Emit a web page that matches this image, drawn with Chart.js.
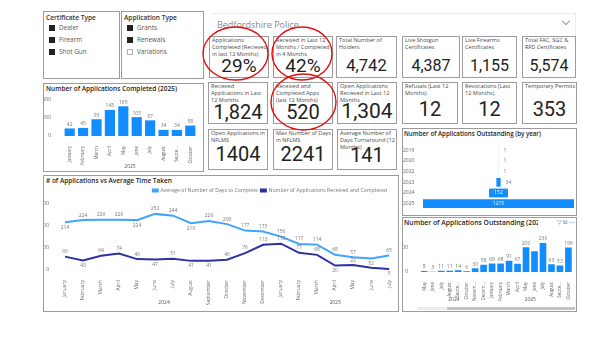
<!DOCTYPE html>
<html>
<head>
<meta charset="utf-8">
<script src="https://cdn.jsdelivr.net/npm/chart.js@4.4.0/dist/chart.umd.min.js"></script>
<style>
  body { margin: 0; width: 600px; height: 338px; background: #fff; position: relative; overflow: hidden; font-family: "Open Sans", sans-serif; }
  .box { position: absolute; box-sizing: border-box; border: 1px solid #9c9c9c; background: #fff; }
  .card .lbl { position: absolute; left: 2px; top: 0px; font-size: 5.6px; line-height: 7px; color: #4a4a4a; white-space: nowrap; }
  .card .val { position: absolute; left: 0; right: 0; text-align: center; font-family: Roboto, sans-serif; color: #222; line-height: 1; }
  .title { position: absolute; font-size: 6.5px; font-weight: 600; color: #252423; white-space: nowrap; }
  .slicer .hd { position: absolute; left: 2px; top: 1px; font-size: 6.6px; font-weight: 600; color: #333; }
  .slicer .it { position: absolute; left: 5px; font-size: 6.4px; color: #555; white-space: nowrap; line-height: 8px; }
  .slicer .it i { display: inline-block; box-sizing: border-box; width: 6px; height: 6px; border: 1px solid #222; background: #222; vertical-align: -1px; margin-right: 4px; }
  .slicer .it i.off { background: #fff; border-color: #b0b0b0; }
  .wrap { position: absolute; }
</style>
</head>
<body>

<!-- slicers -->
<div class="box slicer" style="left:43px;top:11px;width:77px;height:68px;">
  <div class="hd">Certificate Type</div>
  <div class="it" style="top:12px;"><i></i>Dealer</div>
  <div class="it" style="top:24px;"><i></i>Firearm</div>
  <div class="it" style="top:36px;"><i></i>Shot Gun</div>
</div>
<div class="box slicer" style="left:121px;top:11px;width:83px;height:68px;">
  <div class="hd">Application Type</div>
  <div class="it" style="top:12px;"><i></i>Grants</div>
  <div class="it" style="top:24px;"><i></i>Renewals</div>
  <div class="it" style="top:36px;"><i class="off"></i>Variations</div>
</div>

<!-- force dropdown -->
<div style="position:absolute;left:212px;top:13px;width:363px;height:22px;border-top:1px solid #ececec;border-right:1px solid #ececec;"></div>
<div style="position:absolute;left:217px;top:18px;font-size:9px;color:#8a8a8a;">Bedfordshire Police</div>
<div style="position:absolute;left:563px;top:18px;width:5px;height:5px;border-right:1px solid #999;border-bottom:1px solid #999;transform:rotate(45deg);"></div>

<!-- KPI row 1 -->
<div class="box card" style="left:209px;top:36px;width:60px;height:42px;"><div class="lbl">Applications<br>Completed (Recieved<br>in last 12 Months)</div><div class="val" style="bottom:2px;font-size:19px;">29%</div></div>
<div class="box card" style="left:273px;top:36px;width:60px;height:42px;"><div class="lbl">Received in Last 12<br>Months / Completed<br>in 4 Months</div><div class="val" style="bottom:2px;font-size:19px;">42%</div></div>
<div class="box card" style="left:336px;top:36px;width:61px;height:42px;"><div class="lbl">Total Number of<br>Holders</div><div class="val" style="bottom:3px;font-size:16.5px;">4,742</div></div>
<div class="box card" style="left:402px;top:36px;width:58px;height:42px;"><div class="lbl">Live Shotgun<br>Certificates</div><div class="val" style="bottom:3px;font-size:16px;">4,387</div></div>
<div class="box card" style="left:462px;top:36px;width:55px;height:42px;"><div class="lbl">Live Firearms<br>Certificates</div><div class="val" style="bottom:3px;font-size:16px;">1,155</div></div>
<div class="box card" style="left:522px;top:36px;width:54px;height:42px;"><div class="lbl">Total FAC, SGC &amp;<br>RFD Certificates</div><div class="val" style="bottom:3px;font-size:16px;">5,574</div></div>

<!-- KPI row 2 -->
<div class="box card" style="left:208px;top:82px;width:60px;height:42px;"><div class="lbl">Recieved<br>Applications in Last<br>12 Months</div><div class="val" style="bottom:1px;font-size:20px;">1,824</div></div>
<div class="box card" style="left:273px;top:82px;width:60px;height:42px;"><div class="lbl">Received and<br>Completed Apps<br>(last 12 Months)</div><div class="val" style="bottom:1px;font-size:20px;">520</div></div>
<div class="box card" style="left:337px;top:82px;width:60px;height:42px;"><div class="lbl">Open Applications<br>Recieved in Last 12<br>Months</div><div class="val" style="bottom:1px;font-size:21px;">1,304</div></div>
<div class="box card" style="left:402px;top:82px;width:56px;height:42px;"><div class="lbl">Refusals (Last 12<br>Months)</div><div class="val" style="bottom:4px;font-size:20px;">12</div></div>
<div class="box card" style="left:462px;top:82px;width:55px;height:42px;"><div class="lbl">Revocations (Last<br>12 Months)</div><div class="val" style="bottom:4px;font-size:20px;">12</div></div>
<div class="box card" style="left:522px;top:82px;width:55px;height:42px;"><div class="lbl">Temporary Permits</div><div class="val" style="bottom:4px;font-size:20px;">353</div></div>

<!-- KPI row 3 -->
<div class="box card" style="left:208px;top:129px;width:60px;height:41px;"><div class="lbl">Open Applications in<br>NFLMS</div><div class="val" style="bottom:5px;font-size:20px;">1404</div></div>
<div class="box card" style="left:273px;top:129px;width:60px;height:41px;"><div class="lbl">Max Number of Days<br>in NFLMS</div><div class="val" style="bottom:5px;font-size:20px;">2241</div></div>
<div class="box card" style="left:337px;top:129px;width:60px;height:41px;"><div class="lbl">Average Number of<br>Days Turnaround (12<br>Months)</div><div class="val" style="bottom:4px;font-size:20px;">141</div></div>

<!-- chart boxes -->
<div class="box" style="left:43px;top:83px;width:161px;height:89px;"></div>
<div class="title" style="left:46px;top:84px;">Number of Applications Completed (2025)</div>
<div class="wrap" style="left:44px;top:93px;width:159px;height:77px;"><canvas id="completedChart"></canvas></div>

<div class="box" style="left:43px;top:175px;width:356px;height:137px;"></div>
<div class="title" style="left:46px;top:176px;">#  of Applications vs Average Time Taken</div>
<div class="wrap" style="left:44px;top:185px;width:353px;height:125px;"><canvas id="trendChart"></canvas></div>

<div class="box" style="left:402px;top:128px;width:175px;height:88px;"></div>
<div class="title" style="left:404px;top:129px;font-size:6.2px;">Number of Applications Outstanding (by year)</div>
<div class="wrap" style="left:403px;top:140px;width:173px;height:74px;"><canvas id="byYearChart"></canvas></div>

<div class="box" style="left:402px;top:217px;width:175px;height:95px;"></div>
<div class="title" style="left:404px;top:218px;font-size:6.8px;">Number of Applications Outstanding (2024-2025)</div>
<div style="position:absolute;left:538px;top:218px;width:37px;height:9px;background:#fff;font-size:6px;color:#777;text-align:right;">&#9661; &#10697; &#8943;</div>
<div class="wrap" style="left:403px;top:228px;width:173px;height:80px;"><canvas id="outstandingChart"></canvas></div>
<div style="position:absolute;left:417px;top:307px;width:158px;height:2.5px;background:#ececec;"></div>
<div style="position:absolute;left:447px;top:307px;width:128px;height:2.5px;background:#c4c4c4;"></div>

<!-- red annotation circles -->
<svg style="position:absolute;left:0;top:0;" width="600" height="338">
  <ellipse cx="235.5" cy="53.5" rx="32.5" ry="26.5" fill="none" stroke="#e01010" stroke-width="1.4"/>
  <ellipse cx="302" cy="53.5" rx="30" ry="26.5" fill="none" stroke="#e01010" stroke-width="1.4"/>
  <ellipse cx="303.5" cy="102" rx="32.5" ry="28" fill="none" stroke="#e01010" stroke-width="1.4"/>
</svg>

<script>
// BEGIN: DATA
const completedMonths = ["January", "February", "March", "April", "May", "June", "July", "August", "Septe...", "October"];
const completedCounts = [42, 45, 93, 145, 165, 105, 87, 34, 34, 58];

const trendMonths = ["January", "February", "March", "April", "May", "June", "July", "August", "September", "October", "November", "December",
  "January", "February", "March", "April", "May", "June", "July"];
const trendYears = ["2024", "2024", "2024", "2024", "2024", "2024", "2024", "2024", "2024", "2024", "2024", "2024",
  "2025", "2025", "2025", "2025", "2025", "2025", "2025"];
const avgDaysToComplete = [214, 224, 226, 226, 224, 252, 244, 210, 220, 206, 177, 173, 150, 117, 114, 68, 57, 52, 65];
const receivedAndCompleted = [60, 43, 64, 74, 49, 47, 51, 41, 41, 46, 76, 113, 118, 77, 68, 20, 22, 10, 5];

const outstandingYears = ["2019", "2020", "2022", "2023", "2024", "2025"];
const outstandingByYear = [1, 1, 1, 34, 152, 1215];

const outstandingMonths = ["May", "June", "July", "August", "Septe...", "October", "Novem...", "Decem...",
  "January", "February", "March", "April", "May", "June", "July", "August", "Septe...", "October"];
const outstandingMonthYears = ["2024", "2024", "2024", "2024", "2024", "2024", "2024", "2024",
  "2025", "2025", "2025", "2025", "2025", "2025", "2025", "2025", "2025", "2025"];
const outstandingCounts = [8, 3, 11, 11, 14, 6, 30, 58, 69, 68, 91, 67, 200, 169, 236, 63, 53, 199];
// END: DATA

const BLUE = "#118DFF";
const LIGHT_BLUE = "#3fa4ff";
const DARK_BLUE = "#2d31a3";
const TICK = { size: 5 };
const MONTH_TICK = { size: 4.6 };

Chart.defaults.font.family = "Open Sans";
Chart.defaults.color = "#666";
Chart.defaults.animation = false;

// data labels like power bi (skips labels that would collide)
const valueLabels = {
  id: "valueLabels",
  afterDatasetsDraw(chart, args, opts) {
    if (!opts.mode) return;
    const ctx = chart.ctx;
    const placed = [];
    ctx.save();
    ctx.font = "5px 'Open Sans'";
    ctx.textBaseline = "middle";
    chart.data.datasets.forEach((ds, di) => {
      chart.getDatasetMeta(di).data.forEach((el, i) => {
        let v = ds.data[i];
        let x = el.x, y = el.y, align = "center", color = "#777";
        if (opts.mode === "bar") {
          y = el.y - 4;
        } else if (opts.mode === "line") {
          const prev = i > 0 ? ds.data[i - 1] : Infinity;
          const next = i < ds.data.length - 1 ? ds.data[i + 1] : Infinity;
          y = (v <= prev && v <= next) ? el.y + 5 : el.y - 5;
        } else if (opts.mode === "funnel") {
          v = v[1] - v[0];
          if (el.x - el.base > 14) {
            x = (el.x + el.base) / 2; color = "#fff";
          } else {
            x = el.x + 5; align = "left";
          }
        }
        const txt = String(v);
        const w = ctx.measureText(txt).width;
        const left = align === "left" ? x : x - w / 2;
        const r = { l: left, r: left + w, t: y - 3, b: y + 3 };
        if (placed.some(p => r.l < p.r && r.r > p.l && r.t < p.b && r.b > p.t)) return;
        placed.push(r);
        ctx.fillStyle = color;
        ctx.textAlign = align;
        ctx.fillText(txt, x, y);
      });
    });
    ctx.restore();
  }
};

// year captions under the month axis
const yearGroups = {
  id: "yearGroups",
  afterDraw(chart, args, opts) {
    if (!opts.years) return;
    const xs = chart.scales.x;
    const groups = {};
    opts.years.forEach((yr, i) => { (groups[yr] = groups[yr] || []).push(xs.getPixelForValue(i)); });
    const ctx = chart.ctx;
    ctx.save();
    ctx.font = "5px 'Open Sans'";
    ctx.fillStyle = "#555";
    ctx.textAlign = "center";
    ctx.textBaseline = "middle";
    Object.keys(groups).forEach(yr => {
      const px = groups[yr];
      ctx.fillText(yr, (px[0] + px[px.length - 1]) / 2, chart.chartArea.bottom + opts.offset);
    });
    ctx.restore();
  }
};

Chart.register(valueLabels, yearGroups);

const noGrid = { grid: { display: false }, border: { display: false } };

// BEGIN: COMPLETED 2025
new Chart(document.getElementById("completedChart"), {
  type: "bar",
  data: {
    labels: completedMonths,
    datasets: [{ data: completedCounts, backgroundColor: BLUE, categoryPercentage: 0.8, barPercentage: 0.95 }],
  },
  options: {
    responsive: true,
    maintainAspectRatio: false,
    layout: { padding: { top: 6, right: 6 } },
    plugins: { legend: { display: false }, tooltip: { enabled: false }, valueLabels: { mode: "bar" } },
    scales: {
      x: {
        ...noGrid,
        ticks: { font: MONTH_TICK, minRotation: 90, maxRotation: 90, autoSkip: false, padding: 2 },
        title: { display: true, text: "2025", font: TICK, color: "#555", padding: 0 },
        afterFit: (s) => { s.height = 34; },
      },
      y: {
        ...noGrid,
        min: 0, max: 200,
        ticks: { font: TICK, stepSize: 100, padding: 4 },
        afterFit: (s) => { s.width = 19; },
      },
    },
  },
});
// END: COMPLETED 2025

// BEGIN: APPLICATIONS VS TIME
new Chart(document.getElementById("trendChart"), {
  type: "line",
  data: {
    labels: trendMonths,
    datasets: [
      { label: "Average of Number of Days to Complete", data: avgDaysToComplete, borderColor: LIGHT_BLUE, backgroundColor: LIGHT_BLUE, borderWidth: 2, pointRadius: 0, tension: 0 },
      { label: "Number of Applications Received and Completed", data: receivedAndCompleted, borderColor: DARK_BLUE, backgroundColor: DARK_BLUE, borderWidth: 2, pointRadius: 0, tension: 0 },
    ],
  },
  options: {
    responsive: true,
    maintainAspectRatio: false,
    layout: { padding: { right: 7 } },
    plugins: {
      legend: { position: "top", align: "end", labels: { font: { size: 5.2 }, color: "#777", boxWidth: 5, boxHeight: 2, padding: 3 } },
      tooltip: { enabled: false },
      valueLabels: { mode: "line" },
      yearGroups: { years: trendYears, offset: 33 },
    },
    scales: {
      x: {
        ...noGrid,
        offset: false,
        ticks: { font: { size: 4.9 }, minRotation: 90, maxRotation: 90, autoSkip: false, padding: 2 },
        afterFit: (s) => { s.height = 40; },
      },
      y: {
        ...noGrid,
        min: 0, max: 300,
        ticks: { font: TICK, stepSize: 100, padding: 8 },
        afterFit: (s) => { s.width = 21; },
      },
    },
  },
});
// END: APPLICATIONS VS TIME

// BEGIN: OUTSTANDING BY YEAR (funnel)
const maxYear = Math.max(...outstandingByYear);
new Chart(document.getElementById("byYearChart"), {
  type: "bar",
  data: {
    labels: outstandingYears,
    datasets: [{ data: outstandingByYear.map((v) => [-v / 2, v / 2]), backgroundColor: BLUE, categoryPercentage: 1, barPercentage: 0.82 }],
  },
  options: {
    indexAxis: "y",
    responsive: true,
    maintainAspectRatio: false,
    layout: { padding: { right: 2 } },
    plugins: { legend: { display: false }, tooltip: { enabled: false }, valueLabels: { mode: "funnel" } },
    scales: {
      x: { display: false, min: -maxYear / 2, max: maxYear / 2 },
      y: {
        ...noGrid,
        ticks: { font: TICK, crossAlign: "far", padding: 2 },
        afterFit: (s) => { s.width = 20; },
      },
    },
  },
});
// END: OUTSTANDING BY YEAR

// BEGIN: OUTSTANDING 2024-2025
new Chart(document.getElementById("outstandingChart"), {
  type: "bar",
  data: {
    labels: outstandingMonths,
    datasets: [{ data: outstandingCounts, backgroundColor: BLUE, categoryPercentage: 0.8, barPercentage: 0.98 }],
  },
  options: {
    responsive: true,
    maintainAspectRatio: false,
    layout: { padding: { top: 6, right: 2 } },
    plugins: {
      legend: { display: false },
      tooltip: { enabled: false },
      valueLabels: { mode: "bar" },
      yearGroups: { years: outstandingMonthYears, offset: 28 },
    },
    scales: {
      x: {
        ...noGrid,
        ticks: { font: MONTH_TICK, minRotation: 90, maxRotation: 90, autoSkip: false, padding: 2 },
        afterFit: (s) => { s.height = 36; },
      },
      y: {
        ...noGrid,
        min: 0, max: 300,
        ticks: { font: TICK, padding: 4 },
        afterBuildTicks: (s) => { s.ticks = [{ value: 0 }, { value: 200 }]; },
        afterFit: (s) => { s.width = 17; },
      },
    },
  },
});
// END: OUTSTANDING 2024-2025
</script>
</body>
</html>
